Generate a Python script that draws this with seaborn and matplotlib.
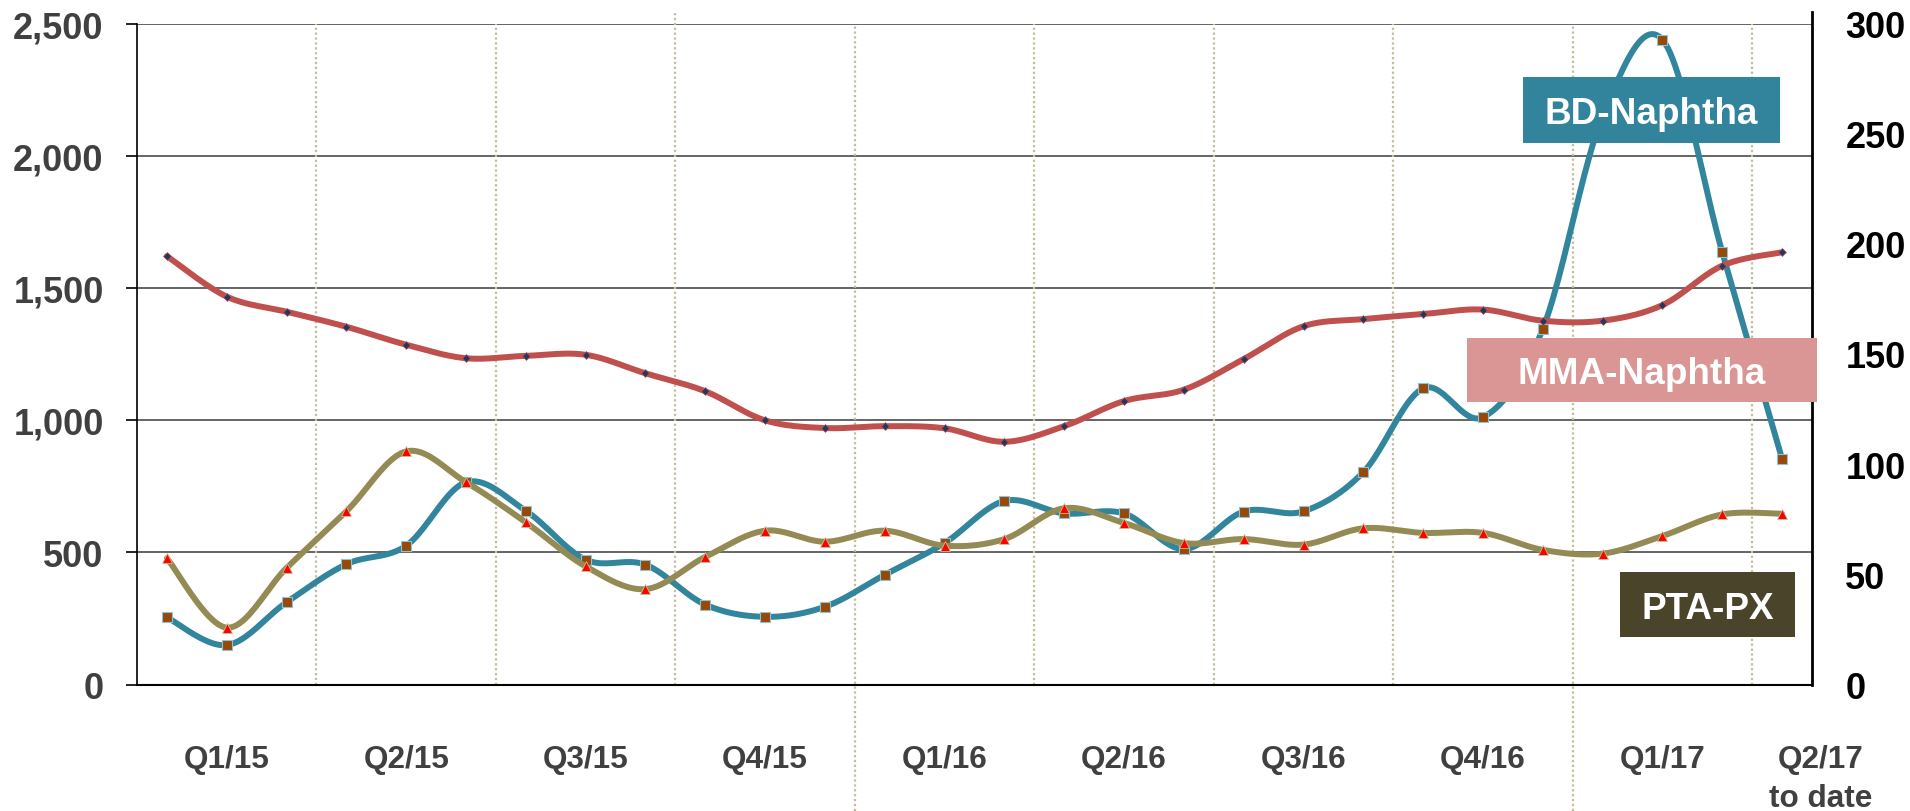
import numpy as np
import pandas as pd
import matplotlib
matplotlib.use("Agg")
import matplotlib.pyplot as plt
from matplotlib.patches import Rectangle
import seaborn as sns

# monthly spreads, Jan 2015 .. Apr 2017
months = pd.period_range("2015-01", "2017-04", freq="M").strftime("%b-%y").tolist()

bd_naphtha = [254, 149, 311, 455, 525, 765, 657, 472, 453, 302, 256, 294, 415, 535,
              694, 647, 647, 512, 654, 655, 803, 1120, 1011, 1345, 2150, 2439, 1635, 853]
mma_naphtha = [1620, 1467, 1410, 1353, 1285, 1234, 1243, 1247, 1177, 1109, 999, 970, 977, 969,
               918, 977, 1072, 1115, 1231, 1355, 1382, 1401, 1418, 1376, 1376, 1435, 1584, 1635]
pta_px = [57.3, 25.8, 52.9, 78.6, 105.8, 91.8, 73.6, 53.6, 43.3, 57.9, 69.8, 64.8, 69.8, 63.0,
          66.0, 80.0, 73.3, 64.2, 66.0, 63.5, 70.9, 68.8, 68.8, 61.1, 59.4, 67.4, 77.2, 77.5]

quarters = ["Q1/15", "Q2/15", "Q3/15", "Q4/15", "Q1/16", "Q2/16", "Q3/16", "Q4/16", "Q1/17"]
last_quarter = ["Q2/17", "to date"]

left_ticks = [0, 500, 1000, 1500, 2000, 2500]
right_ticks = [0, 50, 100, 150, 200, 250, 300]


def smooth(xs, ys, n=24):
    # excel-style smoothed line (bezier through the points)
    x = np.asarray(xs, float)
    y = np.asarray(ys, float)
    px = np.concatenate([[x[0]], x, [x[-1]]])
    py = np.concatenate([[y[0]], y, [y[-1]]])
    t = np.linspace(0, 1, n)[:, None]
    out = []
    for i in range(len(x) - 1):
        p0 = np.array([px[i], py[i]])
        p1 = np.array([px[i + 1], py[i + 1]])
        p2 = np.array([px[i + 2], py[i + 2]])
        p3 = np.array([px[i + 3], py[i + 3]])
        c1 = p1 + (p2 - p0) / 6
        c2 = p2 - (p3 - p1) / 6
        seg = (1 - t) ** 3 * p1 + 3 * (1 - t) ** 2 * t * c1 + 3 * (1 - t) * t ** 2 * c2 + t ** 3 * p2
        out.append(seg if i == 0 else seg[1:])
    out = np.vstack(out)
    return out[:, 0], out[:, 1]


sns.set_style("white")
plt.rcParams['font.family'] = ['Liberation Sans', 'DejaVu Sans']

W, H = 1910, 812
fig = plt.figure(figsize=(W / 100, H / 100), dpi=100)
ax = fig.add_axes([137 / W, 1 - 685.5 / H, (1812 - 137) / W, (685.5 - 24.5) / H])
ax2 = ax.twinx()

x = np.arange(len(months)) + 0.5

teal, red, olive = "#31859C", "#C0504D", "#948A54"
lw = 4.3

# left axis: BD and MMA
sx, sy = smooth(x, bd_naphtha)
ax.plot(sx, sy, color=teal, linewidth=lw, solid_capstyle="round", zorder=3)
sns.scatterplot(x=x, y=bd_naphtha, ax=ax, marker="s", s=60, color="#984807",
                edgecolor="#8CC4D4", linewidth=0.8, zorder=4)
sx, sy = smooth(x, mma_naphtha)
ax.plot(sx, sy, color=red, linewidth=lw, solid_capstyle="round", zorder=3)
sns.scatterplot(x=x, y=mma_naphtha, ax=ax, marker="D", s=16, color="#1F3864",
                edgecolor="#C0504D", linewidth=0.5, zorder=4)

# right axis: PTA-PX
sx, sy = smooth(x, pta_px)
ax2.plot(sx, sy, color=olive, linewidth=lw, solid_capstyle="round", zorder=3)
sns.scatterplot(x=x, y=pta_px, ax=ax2, marker="^", s=50, color="#FF0000",
                edgecolor="#C9BE8C", linewidth=0.6, zorder=4)

ax.set_xlim(0, len(months))
ax.set_ylim(0, 2500)
ax2.set_ylim(0, 300)

# horizontal grid
for v in left_ticks[1:]:
    ax.axhline(v, color="#595959", lw=1.3, zorder=1)

# quarter separators
for b in range(3, len(months), 3):
    lo, hi = 0, 1
    if b % 12 == 0:
        lo = -(H - 685.5) / 661
    if b == 9:
        hi = 1 + 13 / 661
    ax.axvline(b, lo, hi, color="#C4BD97", lw=1.6, ls=(0, (1, 1.2)), zorder=1, clip_on=False)

ax.set_yticks(left_ticks)
ax.set_yticklabels([f"{v:,}" for v in left_ticks])
ax.tick_params(axis="y", which="major", direction="out", length=8, width=1.2, color="black",
               pad=16, labelsize=26, labelcolor="#404040")
for lab in ax.get_yticklabels():
    lab.set_fontweight("bold")

ax2.set_yticks(right_ticks)
ax2.set_yticklabels([str(v) for v in right_ticks])
ax2.tick_params(axis="y", length=0, pad=24, labelsize=26, labelcolor="black")
for lab in ax2.get_yticklabels():
    lab.set_fontweight("bold")

ax.set_xticks(np.arange(0, len(months) + 1))
ax.set_xticklabels([])
ax.tick_params(axis="x", direction="out", length=10.5, width=1.2, color="black")

for k, q in enumerate(quarters):
    ax.text(1.5 + 3 * k, -0.1248, q, transform=ax.get_xaxis_transform(), ha="center",
            va="baseline", fontsize=22.7, fontweight="bold", color="#404040")
ax.text(28.14, -0.1248, last_quarter[0], transform=ax.get_xaxis_transform(), ha="center",
        va="baseline", fontsize=22.7, fontweight="bold", color="#404040", clip_on=False)
ax.text(28.14, -0.1838, last_quarter[1], transform=ax.get_xaxis_transform(), ha="center",
        va="baseline", fontsize=22.7, fontweight="bold", color="#404040", clip_on=False)

for a in (ax, ax2):
    a.spines["top"].set_visible(False)
    a.set_xlabel("")
    a.set_ylabel("")
ax.spines["left"].set_color("black")
ax.spines["left"].set_linewidth(1.2)
ax.spines["bottom"].set_color("black")
ax.spines["bottom"].set_linewidth(1.5)
ax2.spines["right"].set_color("black")
ax2.spines["right"].set_linewidth(2)
ax2.spines["right"].set_bounds(0, 305.2)
ax2.spines["left"].set_visible(False)
ax2.spines["bottom"].set_visible(False)

# series name boxes
series_boxes = [
    ("BD-Naphtha", "#31849B", (1523, 78, 1780, 144)),
    ("MMA-Naphtha", "#D99694", (1467, 339, 1817, 403)),
    ("PTA-PX", "#4A452A", (1620, 573, 1795, 638)),
]
for name, col, (x0, y0, x1, y1) in series_boxes:
    fig.add_artist(Rectangle((x0 / W, 1 - y1 / H), (x1 - x0) / W, (y1 - y0) / H,
                             transform=fig.transFigure, facecolor=col, edgecolor="none", zorder=10))
    fig.text((x0 + x1) / 2 / W, 1 - ((y0 + y1) / 2 + 13.5) / H, name, ha="center", va="baseline",
             fontsize=26.6, fontweight="bold", color="white", zorder=11)

fig.savefig("out.png", dpi=100)
